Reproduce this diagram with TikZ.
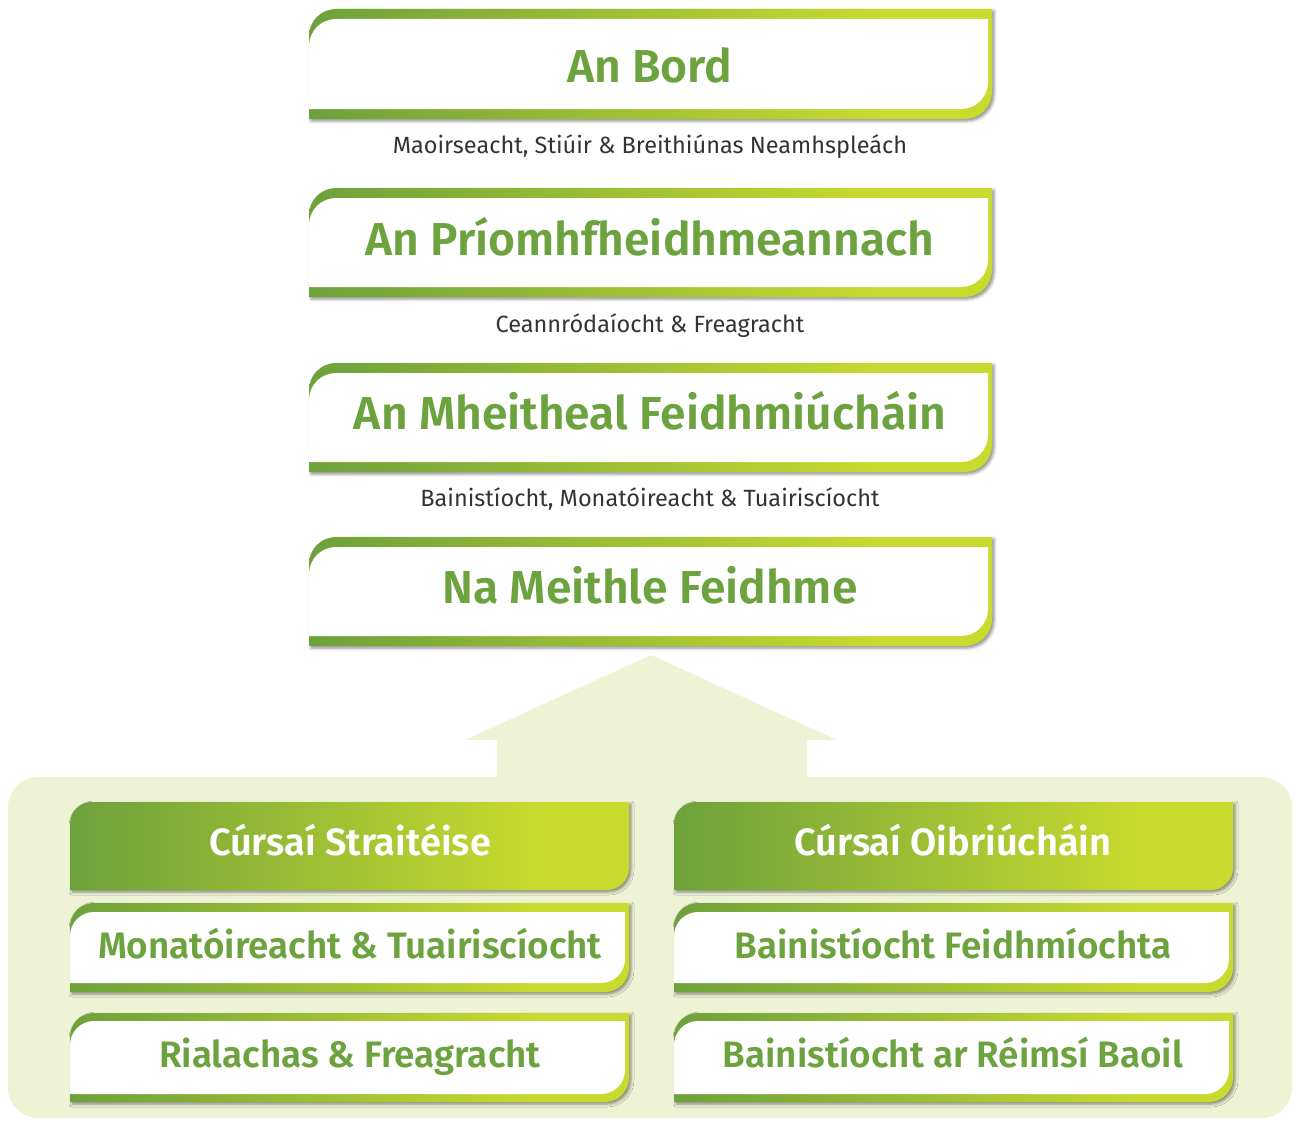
\documentclass[tikz,border=0pt]{standalone}
\usepackage{fontspec}
\setmainfont{Fira Sans}
\newfontfamily\titlef{Fira Sans SemiBold}
\newfontfamily\subf{Fira Sans}
\usetikzlibrary{shadows.blur}
\definecolor{gA}{HTML}{6DA13B}
\definecolor{gB}{HTML}{C8DA2E}
\definecolor{txtG}{HTML}{6CA33F}
\definecolor{panelc}{HTML}{EFF3D6}
\definecolor{subgray}{HTML}{333333}
\pgfdeclarehorizontalshading{gbar}{100bp}{color(0bp)=(gA); color(25bp)=(gA); color(67bp)=(gB); color(100bp)=(gB)}
\newcommand\outerpath[5]{(#1,#4) -- (#1,{#2+#5}) .. controls (#1,{#2+0.448*#5}) and ({#1+0.448*#5},#2) .. ({#1+#5},#2) -- (#3,#2) -- (#3,{#4-#5}) .. controls (#3,{#4-0.448*#5}) and ({#3-0.448*#5},#4) .. ({#3-#5},#4) -- cycle}
\newcommand\whitebox[6]{%
  \shade[boxshade] \outerpath{#1}{#2}{#3}{#4}{#5};
  \fill[white] \outerpath{#1}{#2+#6}{#3-4}{#4-#6}{#5};
}
\newcommand\headbox[5]{%
  \shade[boxshade] \outerpath{#1}{#2}{#3}{#4}{#5};
}
\tikzset{
  boxshade/.style={shading=gbar, shading angle=0,
    blur shadow={shadow xshift=2pt, shadow yshift=-2pt, shadow blur radius=3pt, shadow opacity=45}},
  titletext/.style={anchor=base, text=txtG, font=\titlef\fontsize{46.2}{50}\selectfont, inner sep=0pt},
  subtext/.style={anchor=base, text=subgray, font=\subf\fontsize{23.5}{25}\selectfont, inner sep=0pt},
  itemtext/.style={anchor=base, text=txtG, font=\titlef\fontsize{36.8}{40}\selectfont, inner sep=0pt},
  headtext/.style={anchor=base, text=white, font=\titlef\fontsize{38}{40}\selectfont, inner sep=0pt},
}
\begin{document}
\begin{tikzpicture}[x=1pt,y=-1pt]
\useasboundingbox (0,0) rectangle (1296,1124);
% panel with arrow
\fill[panelc, rounded corners=30pt] (8,777) rectangle (1292,1118);
\fill[panelc] (651,655) -- (837,740) -- (807,740) -- (807,778) -- (497,778) -- (497,740) -- (465,740) -- cycle;
% main boxes
\whitebox{309}{9}{992}{119}{27}{10}
\whitebox{309}{188}{992}{297}{27}{10}
\whitebox{309}{363}{992}{472}{27}{10}
\whitebox{309}{537}{992}{646}{27}{10}
\node[titletext] (bord) at (650,82) {An Bord};
\node[titletext] (priomh) at (650,255) {An Príomhfheidhmeannach};
\node[titletext] (mheitheal) at (650,429) {An Mheitheal Feidhmiúcháin};
\node[titletext] (meithle) at (650,603) {Na Meithle Feidhme};
\node[subtext] (s1) at (650,153) {Maoirseacht, Stiúir \& Breithiúnas Neamhspleách};
\node[subtext] (s2) at (650,332) {Ceannródaíocht \& Freagracht};
\node[subtext] (s3) at (650,506) {Bainistíocht, Monatóireacht \& Tuairiscíocht};
% columns
\headbox{70}{802}{629}{890}{22}
\headbox{674}{802}{1233}{890}{22}
\whitebox{70}{903}{629}{992}{24}{9}
\whitebox{70}{1013}{629}{1102}{24}{8}
\whitebox{674}{903}{1233}{992}{24}{9}
\whitebox{674}{1013}{1233}{1102}{24}{8}
\node[headtext] (h1) at (350,855) {Cúrsaí Straitéise};
\node[headtext] (h2) at (953,855) {Cúrsaí Oibriúcháin};
\node[itemtext] (l1) at (350,958) {Monatóireacht \& Tuairiscíocht};
\node[itemtext] (l2) at (350,1067) {Rialachas \& Freagracht};
\node[itemtext] (r1) at (953,958) {Bainistíocht Feidhmíochta};
\node[itemtext] (r2) at (953,1067) {Bainistíocht ar Réimsí Baoil};
\end{tikzpicture}
\end{document}
